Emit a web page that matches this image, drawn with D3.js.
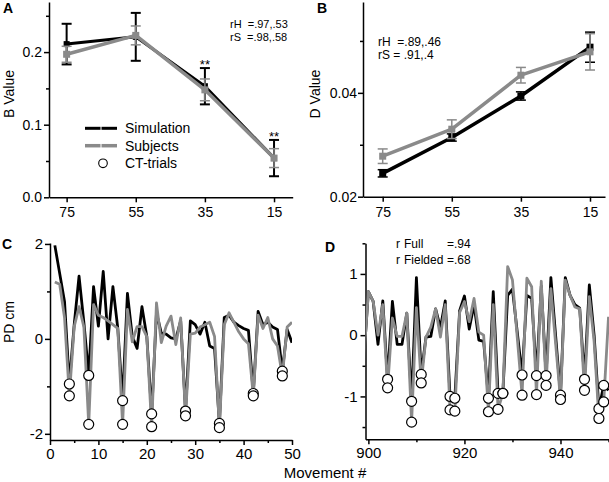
<!DOCTYPE html>
<html><head><meta charset="utf-8">
<script src="https://cdn.jsdelivr.net/npm/d3@7"></script>
<style>
body{margin:0;background:#fff;}
svg{display:block;font-family:"Liberation Sans",Arial,sans-serif;}
</style></head><body>
<svg id="chart" width="609" height="482"></svg>
<script>
// ---------- DATA ----------
const speeds = [75, 55, 35, 15];
const bSim = [0.211, 0.221, 0.153, 0.054];
const bSimErr = [0.028, 0.033, 0.025, 0.025];
const bSub = [0.197, 0.223, 0.148, 0.054];
const bSubErr = [0.011, 0.013, 0.015, 0.013];
const dSim = [0.0245, 0.0314, 0.0394, 0.0488];
const dSimErr = [0.0007, 0.0007, 0.0008, 0.0029];
const dSub = [0.0278, 0.0330, 0.0434, 0.0479];
const dSubErr = [0.0014, 0.0018, 0.0015, 0.0035];
const starSpeeds = [35, 15];

const movesC = d3.range(1, 51);
const simC = [1.97,1.38,0.79,-0.95,0.3,1.32,0.35,-0.77,1.1,0.27,1.42,0.0,1.1,0.23,-1.3,0.96,0.05,-0.2,0.68,0.05,
  -1.58,0.55,0.12,0.1,0.02,0.0,0.38,-1.52,0.38,0.3,0.1,0.35,-0.15,-0.2,-1.78,0.45,0.5,0.35,0.28,0.22,
  0.18,-1.15,0.58,0.3,0.35,0.25,0.2,-0.68,0.2,-0.08];
const subC = [1.2,1.15,0.45,-1.2,0.26,0.68,0.25,-1.8,0.72,0.5,0.45,0.38,0.3,0.22,-1.8,0.62,-0.06,0.26,0.26,0.05,
  -1.85,0.76,-0.08,0.27,0.48,-0.12,0.44,-1.62,0.1,0.12,0.25,0.3,0.35,0.05,-1.87,0.3,0.55,0.35,0.15,0.0,
  -0.1,-1.2,0.5,0.22,0.45,0.0,-0.15,-0.78,0.25,0.35];
const ctC = [4, 8, 15, 21, 28, 35, 42, 48];

const movesD = d3.range(899, 951);
const simD = [-0.45,0.71,0.55,-0.15,0.56,-0.72,0.55,-0.15,-0.15,0.36,-1.08,0.94,-0.64,-0.03,-0.02,0.43,0.12,0.56,-1.0,-1.03,
  0.4,0.64,0.1,0.5,-0.08,-0.1,-1.03,0.71,-0.95,-0.95,0.65,0.75,0.05,-0.65,0.65,0.6,-0.66,0.8,-0.66,0.94,
  -0.02,-0.98,0.94,0.65,0.5,0.44,-0.72,0.82,0.0,-1.2,-0.82,-0.9];
const subD = [-0.45,0.71,0.55,0.0,0.5,-0.86,0.28,-0.02,-0.02,0.36,-1.42,0.45,-0.78,-0.03,0.13,0.43,-0.03,0.5,-1.22,-1.24,
  0.37,0.55,0.22,0.6,0.05,0.0,-1.25,0.5,-1.21,-0.95,1.12,0.9,-0.04,-0.98,0.93,0.79,-0.97,0.88,-0.82,0.76,
  -0.15,-1.05,0.9,0.65,0.46,0.43,-0.9,0.63,-0.1,-1.36,-1.09,0.3];
const ctD = [904, 909, 911, 917, 918, 925, 927, 928, 932, 935, 937, 940, 945, 948, 949];

const GRAY = "#8a8a8a";
const svg = d3.select("#chart");

function addAxes(g, x, y, cfg) {
  const yb = y.range()[0], xl = x.range()[0];
  const xa = g.append("g").attr("transform", `translate(0,${yb})`);
  xa.call(d3.axisBottom(x).tickValues(cfg.xMajor).tickSize(5).tickSizeOuter(0)
    .tickPadding(cfg.xPad).tickFormat(cfg.xFmt));
  if (cfg.xMinor) xa.append("g").call(d3.axisBottom(x).tickValues(cfg.xMinor).tickSize(3).tickFormat(""))
    .select(".domain").remove();
  const ya = g.append("g").attr("transform", `translate(${xl},0)`);
  ya.call(d3.axisLeft(y).tickValues(cfg.yMajor).tickSize(5).tickSizeOuter(0)
    .tickPadding(cfg.yPad).tickFormat(cfg.yFmt));
  if (cfg.yMinor) ya.append("g").call(d3.axisLeft(y).tickValues(cfg.yMinor).tickSize(3).tickFormat(""))
    .select(".domain").remove();
  [xa, ya].forEach(a => {
    a.attr("font-family", null).attr("font-size", null);
    a.selectAll("path,line").attr("stroke", "#000").attr("stroke-width", 1.5);
    a.selectAll("text").attr("font-size", cfg.fs).attr("fill", "#000");
  });
}
const str = d => String(d);

function errPlot(g, x, y, vals, errs, color, lw, elw, sq) {
  const eg = g.append("g").attr("stroke", color).attr("stroke-width", elw);
  speeds.forEach((s, i) => {
    const cx = x(s), t = y(vals[i] + errs[i]), b = y(vals[i] - errs[i]);
    eg.append("line").attr("x1", cx).attr("x2", cx).attr("y1", t).attr("y2", b);
    eg.append("line").attr("x1", cx - 5).attr("x2", cx + 5).attr("y1", t).attr("y2", t);
    eg.append("line").attr("x1", cx - 5).attr("x2", cx + 5).attr("y1", b).attr("y2", b);
  });
  g.append("path").datum(vals)
    .attr("d", d3.line().x((d, i) => x(speeds[i])).y(d => y(d)))
    .attr("fill", "none").attr("stroke", color).attr("stroke-width", lw).attr("stroke-linejoin", "round");
  g.selectAll(null).data(vals).enter().append("rect")
    .attr("x", (d, i) => x(speeds[i]) - sq / 2).attr("y", d => y(d) - sq / 2)
    .attr("width", sq).attr("height", sq).attr("fill", color);
}

// ---------- Panel A ----------
{
  const g = svg.append("g");
  const x = d3.scaleLinear().domain([80.1, 9.6]).range([49, 292.7]);
  const y = d3.scaleLinear().domain([0, 0.269]).range([197.3, 2]);
  addAxes(g, x, y, {xMajor: speeds, xPad: 5, xFmt: str, yMajor: [0, 0.1, 0.2], yMinor: [0.05, 0.15, 0.25],
    yPad: 2, yFmt: d3.format(".1f"), fs: 14});
  errPlot(g, x, y, bSim, bSimErr, "#000", 3, 2, 6);
  errPlot(g, x, y, bSub, bSubErr, GRAY, 3.5, 1.5, 7);
  starSpeeds.forEach(s => {
    const i = speeds.indexOf(s);
    g.append("text").attr("x", x(s)).attr("y", y(bSim[i] + bSimErr[i]) + 1)
      .attr("text-anchor", "middle").attr("font-size", 13).text("**");
  });
  g.append("text").attr("x", 230).attr("y", 28).attr("font-size", 11).attr("xml:space", "preserve").text("rH  =.97,.53");
  g.append("text").attr("x", 230).attr("y", 40.5).attr("font-size", 11).attr("xml:space", "preserve").text("rS  =.98,.58");
  // legend
  const lg = g.append("g").attr("font-size", 14);
  lg.append("line").attr("x1", 85).attr("x2", 117).attr("y1", 128.3).attr("y2", 128.3).attr("stroke", "#000").attr("stroke-width", 3);
  lg.append("line").attr("x1", 101).attr("x2", 101).attr("y1", 125).attr("y2", 131.6).attr("stroke", "#fff").attr("stroke-width", 1);
  lg.append("text").attr("x", 125).attr("y", 133.3).text("Simulation");
  lg.append("line").attr("x1", 85).attr("x2", 117).attr("y1", 145.7).attr("y2", 145.7).attr("stroke", GRAY).attr("stroke-width", 3.5);
  lg.append("line").attr("x1", 101).attr("x2", 101).attr("y1", 142).attr("y2", 149.4).attr("stroke", "#fff").attr("stroke-width", 1);
  lg.append("text").attr("x", 125).attr("y", 150.7).text("Subjects");
  lg.append("circle").attr("cx", 103).attr("cy", 163.3).attr("r", 4.3).attr("fill", "#fff").attr("stroke", "#000").attr("stroke-width", 1.1);
  lg.append("text").attr("x", 125).attr("y", 168.3).text("CT-trials");
  g.append("text").attr("transform", "translate(14,94) rotate(-90)").attr("text-anchor", "middle").attr("font-size", 14).text("B Value");
  g.append("text").attr("x", 3).attr("y", 13).attr("font-size", 14).attr("font-weight", "bold").text("A");
}

// ---------- Panel B ----------
{
  const g = svg.append("g");
  const x = d3.scaleLinear().domain([80.7, 10.66]).range([363, 605]);
  const y = d3.scaleLinear().domain([0.02, 0.0575]).range([196.7, 2]);
  addAxes(g, x, y, {xMajor: speeds, xPad: 5, xFmt: str, yMajor: [0.02, 0.04], yMinor: [0.03, 0.05],
    yPad: 1, yFmt: d3.format(".2f"), fs: 14});
  errPlot(g, x, y, dSim, dSimErr, "#000", 3.5, 1.5, 7);
  errPlot(g, x, y, dSub, dSubErr, GRAY, 3.5, 1.5, 7);
  g.append("text").attr("x", 378).attr("y", 45.5).attr("font-size", 12).attr("xml:space", "preserve").text("rH  =.89,.46");
  g.append("text").attr("x", 378).attr("y", 59).attr("font-size", 12).attr("xml:space", "preserve").text("rS = .91,.4");
  g.append("text").attr("transform", "translate(320,94) rotate(-90)").attr("text-anchor", "middle").attr("font-size", 14).text("D Value");
  g.append("text").attr("x", 317).attr("y", 13).attr("font-size", 14).attr("font-weight", "bold").text("B");
}

function seriesPanel(g, x, y, xs, sim, sub, ct, clipId) {
  const [xl, xr] = x.range(), [yb, yt] = y.range();
  svg.append("clipPath").attr("id", clipId).append("rect")
    .attr("x", xl).attr("y", yt - 10).attr("width", xr - xl).attr("height", yb - yt + 10);
  const pg = g.append("g").attr("clip-path", `url(#${clipId})`);
  const line = arr => d3.line().x((d, i) => x(xs[i])).y(d => y(d))(arr);
  pg.append("path").attr("d", line(sim)).attr("fill", "none").attr("stroke", "#000").attr("stroke-width", 2.8).attr("stroke-linejoin", "round");
  pg.append("path").attr("d", line(sub)).attr("fill", "none").attr("stroke", GRAY).attr("stroke-width", 2.8).attr("stroke-linejoin", "round");
  const pts = [];
  ct.forEach(t => { const i = xs.indexOf(t); pts.push([t, sim[i]], [t, sub[i]]); });
  g.selectAll(null).data(pts).enter().append("circle")
    .attr("cx", d => x(d[0])).attr("cy", d => y(d[1])).attr("r", 5)
    .attr("fill", "#fff").attr("stroke", "#000").attr("stroke-width", 1.2);
}

// ---------- Panel C ----------
{
  const g = svg.append("g");
  const x = d3.scaleLinear().domain([0, 50]).range([50, 292]);
  const y = d3.scaleLinear().domain([-2.13, 2.02]).range([440, 243]);
  addAxes(g, x, y, {xMajor: [0, 10, 20, 30, 40, 50], xMinor: [5, 15, 25, 35, 45], xPad: 3, xFmt: str,
    yMajor: [-2, 0, 2], yMinor: [-1, 1], yPad: 2, yFmt: str, fs: 15});
  seriesPanel(g, x, y, movesC, simC, subC, ctC, "clipC");
  g.append("text").attr("transform", "translate(14,322) rotate(-90)").attr("text-anchor", "middle").attr("font-size", 14).text("PD cm");
  g.append("text").attr("x", 2).attr("y", 248.5).attr("font-size", 14).attr("font-weight", "bold").text("C");
}

// ---------- Panel D ----------
{
  const g = svg.append("g");
  const x = d3.scaleLinear().domain([899.4, 950.1]).range([365.5, 609]);
  const y = d3.scaleLinear().domain([-1.7, 1.5]).range([439.3, 243.3]);
  addAxes(g, x, y, {xMajor: [900, 920, 940], xMinor: [910, 930, 950], xPad: 3, xFmt: str,
    yMajor: [-1, 0, 1], yMinor: [-1.5, -0.5, 0.5, 1.5], yPad: 3, yFmt: str, fs: 15});
  seriesPanel(g, x, y, movesD, simD, subD, ctD, "clipD");
  const ag = g.append("g").attr("font-size", 12);
  [["Full", "=.94", 248], ["Fielded", "=.68", 264]].forEach(r => {
    ag.append("text").attr("x", 396).attr("y", r[2]).text("r");
    ag.append("text").attr("x", 404).attr("y", r[2]).text(r[0]);
    ag.append("text").attr("x", 447).attr("y", r[2]).text(r[1]);
  });
  g.append("text").attr("x", 325).attr("y", 251.5).attr("font-size", 14).attr("font-weight", "bold").text("D");
}

svg.append("text").attr("x", 325).attr("y", 478).attr("text-anchor", "middle").attr("font-size", 15).text("Movement #");
</script>
</body></html>
